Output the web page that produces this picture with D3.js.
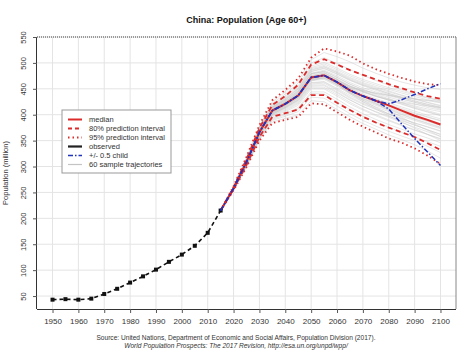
<!DOCTYPE html>
<html><head><meta charset="utf-8">
<script src="https://cdn.jsdelivr.net/npm/d3@7"></script>
<style>body{margin:0;background:#fff}svg{display:block}text{font-family:"Liberation Sans",Arial,sans-serif}</style>
</head><body>
<svg id="c" width="475" height="357"></svg>
<script>
const obsYears = [1950,1955,1960,1965,1970,1975,1980,1985,1990,1995,2000,2005,2010,2015];
const observed = [43,44,43,45,54,64,76,88,101,116,130,147,172,215];
const projYears = [2015,2020,2025,2030,2035,2040,2045,2050,2055,2060,2065,2070,2075,2080,2085,2090,2095,2100];
const median  = [215,258,309,366,408,421,437,472,476,463,447,436,427,418,408,398,390,381];
const lower80 = [215,256,303,357,396,403,410,438,438,423,409,396,385,375,366,357,345,332];
const upper80 = [215,260,314,374,419,436,458,497,507,497,486,477,468,459,451,443,436,431];
const lower95 = [215,254,299,350,384,390,396,422,420,405,390,377,366,354,346,335,321,305];
const upper95 = [215,262,319,380,428,448,470,510,528,522,514,499,488,479,471,464,459,457];
const plusHalf  = [215,258,309,366,408,421,437,472,476,463,447,436,427,421,429,439,450,460];
const minusHalf = [215,258,309,366,408,421,437,472,476,463,447,436,427,411,382,354,328,302];
const trajectories = [
[215,257,308,365,407,420,436,470,474,461,446,435,426,418,410,402,395,388],
[215,259,312,371,415,430,449,486,492,481,468,458,450,441,433,426,420,414],
[215,256,304,359,399,410,423,455,456,442,428,416,406,397,388,380,371,362],
[215,258,310,368,411,425,442,478,484,472,459,449,441,434,427,421,414,409],
[215,255,302,355,393,402,414,444,444,430,415,402,391,381,372,363,355,346],
[215,260,314,374,420,436,456,494,501,490,478,468,460,452,445,438,432,427],
[215,257,307,364,405,418,433,467,470,457,442,430,420,411,401,392,384,376],
[215,258,309,367,409,423,439,474,479,467,454,444,436,428,421,413,406,399],
[215,256,306,362,402,414,428,461,463,449,434,422,412,402,393,384,377,369],
[215,259,311,370,413,428,446,483,489,478,466,456,447,439,431,424,417,411],
[215,257,308,366,408,421,437,471,475,463,449,438,429,420,412,404,396,389],
[215,255,303,357,396,406,418,450,450,436,421,409,398,388,379,370,362,353],
[215,258,310,369,412,426,444,480,486,475,462,452,444,437,430,424,418,413],
[215,256,305,361,401,413,427,459,461,447,432,420,410,401,392,384,376,368],
[215,259,312,372,416,432,451,489,495,484,472,462,454,446,438,431,424,418],
[215,257,307,364,406,419,434,468,471,458,443,431,421,412,403,395,387,379],
[215,258,309,367,410,424,441,476,481,469,456,445,436,428,420,412,405,398],
[215,256,305,360,400,412,425,457,458,444,429,416,405,395,385,376,367,358],
[215,257,308,365,406,420,436,470,473,460,446,435,425,416,408,399,391,383],
[215,259,311,370,414,429,447,484,490,479,467,457,449,441,434,427,420,415],
[215,256,304,358,398,408,421,453,453,439,424,411,400,390,380,371,362,354],
[215,258,310,368,411,425,443,479,484,472,459,448,439,431,423,415,408,401],
[215,257,307,363,404,417,432,466,468,455,440,428,418,409,400,391,383,375],
[215,260,313,373,418,434,453,491,498,487,475,465,457,449,442,435,429,424],
[215,257,309,366,409,422,438,472,477,465,451,440,431,423,415,407,399,392],
[215,255,302,354,391,400,411,441,440,425,410,397,386,376,366,357,348,339],
[215,258,309,367,409,423,440,475,480,468,455,445,437,430,423,417,411,406],
[215,256,306,362,403,415,429,462,464,451,437,425,415,406,397,389,381,373],
[215,259,312,371,415,431,450,487,493,482,470,460,452,444,437,430,423,417],
[215,257,308,364,405,418,434,468,471,458,444,432,423,414,405,396,388,380],
[215,256,305,360,401,414,430,465,472,463,453,446,441,437,433,430,428,426],
[215,259,312,371,414,428,445,480,482,468,451,436,422,408,395,382,370,358],
[215,257,307,364,405,418,435,470,476,466,455,447,442,438,434,431,427,423],
[215,258,310,368,411,424,440,474,475,459,441,425,411,398,386,374,362,350],
[215,256,306,362,403,416,432,468,474,464,452,443,435,429,424,420,417,414],
[215,258,309,367,410,423,439,473,474,460,443,428,414,401,390,380,371,362],
[215,261,317,378,425,444,466,506,520,512,502,490,480,471,463,457,452,449],
[215,254,300,351,386,393,400,427,425,410,396,383,372,361,352,342,330,316],
[215,260,315,376,422,440,461,500,510,499,487,476,466,457,448,440,433,428],
[215,255,301,353,389,397,406,434,432,417,402,389,378,368,359,350,339,327]
];
const xTicks = [1950,1960,1970,1980,1990,2000,2010,2020,2030,2040,2050,2060,2070,2080,2090,2100];
const yTicks = [50,100,150,200,250,300,350,400,450,500,550];
const legendLabels = ["median","80% prediction interval","95% prediction interval","observed","+/- 0.5 child","60 sample trajectories"];
const titleText = "China: Population (Age 60+)";
const yLabel = "Population (million)";
const source1 = "Source: United Nations, Department of Economic and Social Affairs, Population Division (2017).";
const source2 = "World Population Prospects: The 2017 Revision, http://esa.un.org/unpd/wpp/";

const svg = d3.select("#c");
const L=37, R=456, T=37, B=309;
const x = d3.scaleLinear().domain([1944,2106]).range([L,R]);
const y = d3.scaleLinear().domain([25,550]).range([B,T]);
const RED="#dc2b2b", BLUE="#2233bb";

// grid
const g = svg.append("g");
g.selectAll(".vg").data(xTicks).join("line").attr("x1",d=>x(d)).attr("x2",d=>x(d)).attr("y1",T).attr("y2",B).attr("stroke","#e4e4e4").attr("stroke-width",1);
g.selectAll(".hg").data(yTicks).join("line").attr("x1",L).attr("x2",R).attr("y1",d=>y(d)).attr("y2",d=>y(d)).attr("stroke","#e4e4e4").attr("stroke-width",1);

const line = d3.line().x(d=>x(d[0])).y(d=>y(d[1]));
const proj = arr => projYears.map((yr,i)=>[yr,arr[i]]);

// trajectories
svg.append("g").selectAll("path").data(trajectories).join("path")
  .attr("d",d=>line(proj(d))).attr("fill","none").attr("stroke","#c4c4c4").attr("stroke-width",0.7).attr("opacity",0.6);

function draw(arr,color,w,dash){
  svg.append("path").attr("d",line(proj(arr))).attr("fill","none").attr("stroke",color).attr("stroke-width",w).attr("stroke-dasharray",dash||null);
}
draw(median,RED,2);
draw(lower80,RED,1.8,"5,3.5");
draw(upper80,RED,1.8,"5,3.5");
draw(lower95,RED,1.8,"1.5,3");
draw(upper95,RED,1.8,"1.5,3");

// observed
const obs = obsYears.map((yr,i)=>[yr,observed[i]]);
svg.append("path").attr("d",line(obs)).attr("fill","none").attr("stroke","#111").attr("stroke-width",1.6).attr("stroke-dasharray","4,3");
svg.append("g").selectAll("rect").data(obs).join("rect")
  .attr("x",d=>x(d[0])-2).attr("y",d=>y(d[1])-2).attr("width",4).attr("height",4).attr("fill","#111");

draw(plusHalf,BLUE,1.5,"5,2,1.5,2");
draw(minusHalf,BLUE,1.5,"5,2,1.5,2");

// box
svg.append("line").attr("x1",L).attr("x2",R).attr("y1",T).attr("y2",T).attr("stroke","#444").attr("stroke-width",1).attr("stroke-dasharray","1,1");
svg.append("line").attr("x1",R).attr("x2",R).attr("y1",T).attr("y2",B).attr("stroke","#888").attr("stroke-width",1);

// axes
const xa = svg.append("g").attr("transform",`translate(0,${B})`).call(d3.axisBottom(x).tickValues(xTicks).tickFormat(d3.format("d")).tickSize(4).tickPadding(5));
xa.select(".domain").attr("d",`M${L},0.5H${R}`).attr("stroke","#333");
xa.selectAll("line").attr("stroke","#555");
xa.selectAll("text").attr("font-size","8px").attr("fill","#333").attr("font-family","Liberation Sans, Arial, sans-serif");
const ya = svg.append("g").attr("transform",`translate(${L},0)`).call(d3.axisLeft(y).tickValues(yTicks).tickSize(4).tickPadding(0));
ya.select(".domain").attr("d",`M-0.5,${T}V${B}`).attr("stroke","#333");
ya.selectAll("line").attr("stroke","#555");
ya.selectAll("text").attr("font-size","7.5px").attr("fill","#333").attr("font-family","Liberation Sans, Arial, sans-serif")
  .attr("x",0).attr("dy",0).attr("text-anchor","middle")
  .attr("transform","translate(-11,0) rotate(-90)");

svg.append("text").attr("transform",`translate(8,${(T+B)/2}) rotate(-90)`).attr("text-anchor","middle").attr("font-size","7.5px").attr("fill","#333").text(yLabel);
svg.append("text").attr("x",(L+R)/2).attr("y",23).attr("text-anchor","middle").attr("font-size","9px").attr("font-weight","bold").attr("fill","#111").text(titleText);
svg.append("text").attr("x",236).attr("y",340).attr("text-anchor","middle").attr("font-size","6.6px").attr("fill","#333").text(source1);
svg.append("text").attr("x",236).attr("y",348).attr("text-anchor","middle").attr("font-size","6.6px").attr("font-style","italic").attr("fill","#333").text(source2);

// legend
const lg = svg.append("g");
lg.append("rect").attr("x",62).attr("y",110).attr("width",109).attr("height",63).attr("fill","#fff").attr("stroke","#999").attr("stroke-width",1);
const styles = [
  {c:RED,w:2,d:null},{c:RED,w:1.8,d:"4,3"},{c:RED,w:1.8,d:"1.5,3"},{c:"#222",w:2.2,d:null},{c:BLUE,w:1.5,d:"5,2,1.5,2"},{c:"#c4c4c4",w:1.2,d:null}
];
legendLabels.forEach((lab,i)=>{
  const yy = 119.5 + i*9;
  lg.append("line").attr("x1",68).attr("x2",82).attr("y1",yy).attr("y2",yy).attr("stroke",styles[i].c).attr("stroke-width",styles[i].w).attr("stroke-dasharray",styles[i].d);
  lg.append("text").attr("x",89).attr("y",yy+2.6).attr("font-size","7.5px").attr("fill","#333").text(lab);
});
</script>
</body></html>
